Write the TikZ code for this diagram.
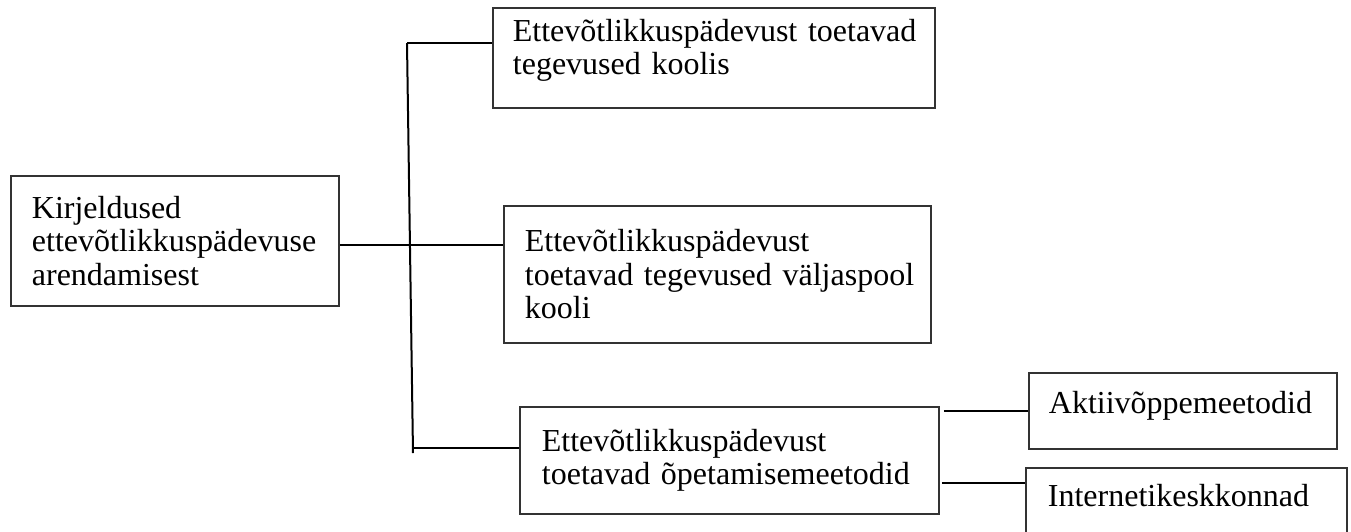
\documentclass[tikz,border=0pt]{standalone}
\usepackage{fontspec}
\setmainfont{Liberation Serif}
\usetikzlibrary{calc}

\tikzset{
  box/.style={draw=black!80, line width=0.9pt, anchor=north west, align=left,
    inner ysep=0pt, font=\fontsize{16}{16.8}\selectfont},
  link/.style={line width=1pt}
}

\begin{document}
\begin{tikzpicture}[x=0.5pt,y=-0.5pt]

\useasboundingbox (0,0) rectangle (1351,531);

% draw the boxes
\node[box, inner xsep=10.5pt, text width=143pt, minimum height=65pt] (root) at (10,175)
  {\mbox{Kirjeldused}\\\mbox{ettevõtlikkuspädevuse}\\\mbox{arendamisest}};
\node[box, inner xsep=10pt, text width=201pt, minimum height=50pt, text depth=28pt] (koolis) at (492,7)
  {\mbox{Ettevõtlikkuspädevust toetavad}\\\mbox{tegevused koolis}};
\node[box, inner xsep=10.5pt, text width=192.5pt, minimum height=68.5pt] (valjas) at (503,205)
  {\mbox{Ettevõtlikkuspädevust}\\\mbox{toetavad tegevused väljaspool}\\\mbox{kooli}};
\node[box, inner xsep=11pt, text width=187.5pt, minimum height=53.5pt] (opet) at (519,406)
  {\mbox{Ettevõtlikkuspädevust}\\\mbox{toetavad õpetamisemeetodid}};
\node[box, inner xsep=10pt, text width=134pt, minimum height=38pt, text depth=9pt] (aktiiv) at (1028,372)
  {Aktiivõppemeetodid};
\node[box, inner xsep=11pt, text width=138.5pt, minimum height=35pt, text depth=8pt] (internet) at (1025,467)
  {Internetikeskkonnad};

% draw the trunk
\coordinate (top) at (407,43);
\coordinate (mid) at (410,245);
\coordinate (low) at (413,448);
\coordinate (bot) at (413,453);
\coordinate (net) at (980,483);
\draw[link] (top) -- (bot);

% draw the branches
\draw[link] (top) -- (koolis.west |- top);
\draw[link] (root.east |- mid) -- (valjas.west |- mid);
\draw[link] (low) -- (opet.west |- low);
\draw[link] ([xshift=2pt]opet.east |- aktiiv.west) -- (aktiiv.west);
\draw[link] ([xshift=1pt]opet.east |- net) -- (internet.west |- net);

\end{tikzpicture}
\end{document}
